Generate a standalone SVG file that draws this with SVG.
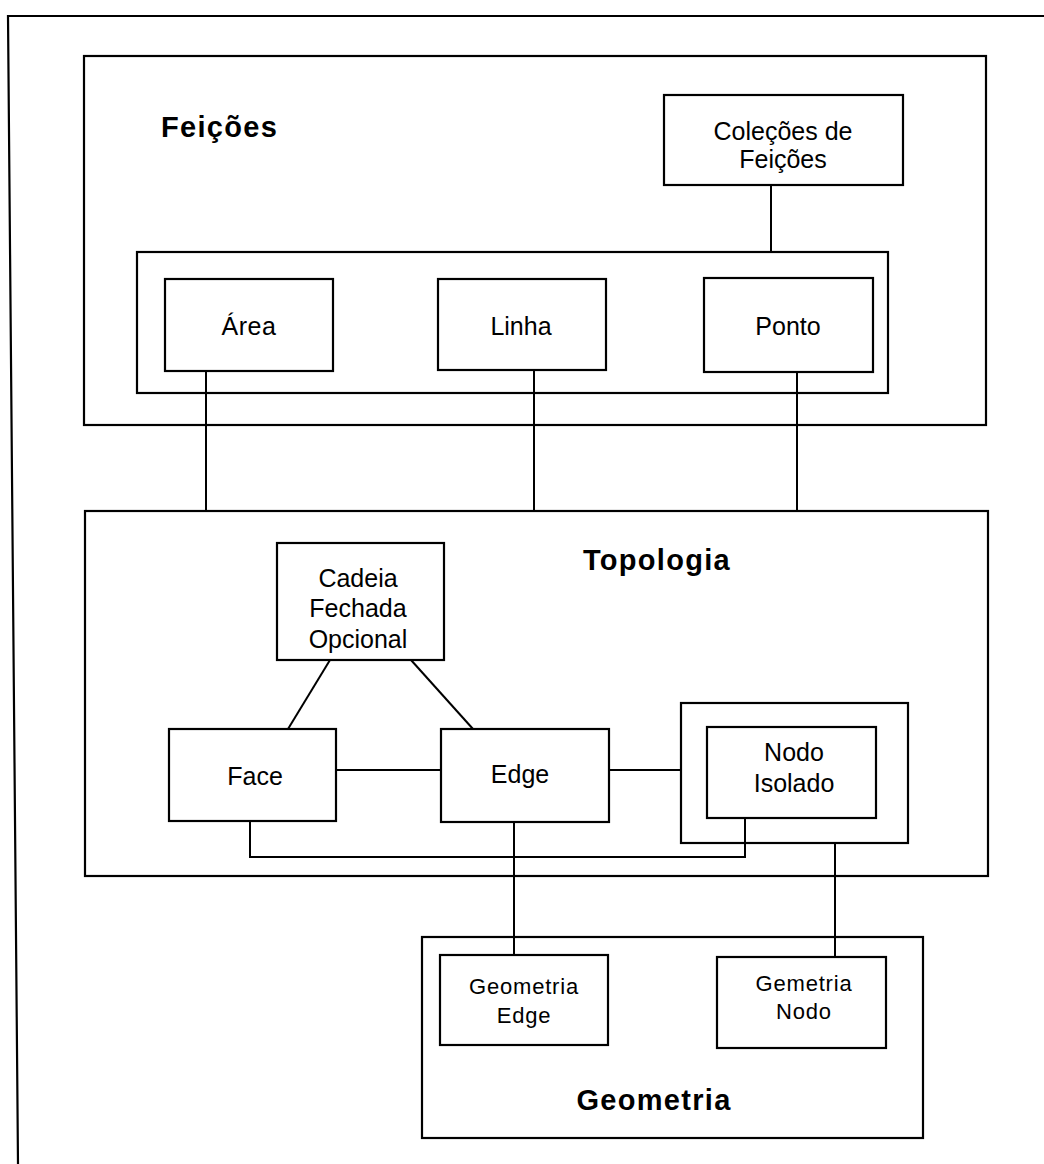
<svg xmlns="http://www.w3.org/2000/svg" width="1044" height="1164" viewBox="0 0 1044 1164">
<style>
.box{fill:#fff;stroke:#000;stroke-width:2.2}
.grp{fill:none;stroke:#000;stroke-width:2.2}
.con{fill:none;stroke:#000;stroke-width:2}
.t{font-family:"Liberation Sans",Arial,sans-serif;font-size:25px;fill:#000;text-anchor:middle}
.s{font-size:22px;letter-spacing:0.8px}
.h{font-family:"Liberation Sans",Arial,sans-serif;font-weight:bold;font-size:29px;fill:#000;letter-spacing:1.3px}
</style>
<rect width="1044" height="1164" fill="#fff"/>
<g id="frame">
<path class="grp" d="M18,1164 L8,16 L1044,16"/>
</g>
<g id="feicoes">
<rect class="grp" x="84" y="56" width="902" height="369"/>
<text class="h" x="161" y="137">Feições</text>
</g>
<g id="topologia">
<rect class="grp" x="85" y="511" width="903" height="365"/>
<text class="h" x="657" y="570" text-anchor="middle">Topologia</text>
</g>
<g id="geometria">
<rect class="grp" x="422" y="937" width="501" height="201"/>
<text class="h" x="654" y="1110" text-anchor="middle">Geometria</text>
</g>
<g id="connectors">
<line class="con" x1="771" y1="185" x2="771" y2="252"/>
<line class="con" x1="206" y1="371" x2="206" y2="511"/>
<line class="con" x1="534" y1="370" x2="534" y2="511"/>
<line class="con" x1="797" y1="372" x2="797" y2="511"/>
<line class="con" x1="330" y1="660" x2="288" y2="729"/>
<line class="con" x1="411" y1="660" x2="473" y2="729"/>
<line class="con" x1="337" y1="770" x2="441" y2="770"/>
<line class="con" x1="609" y1="770" x2="682" y2="770"/>
<path class="con" d="M250,821 L250,857 L745,857 L745,818"/>
<line class="con" x1="514" y1="822" x2="514" y2="955"/>
<line class="con" x1="835" y1="843" x2="835" y2="957"/>
</g>
<g id="feicoes-group">
<rect class="grp" x="137" y="252" width="751" height="141"/>
</g>
<g id="colecoes">
<rect class="box" x="664" y="95" width="239" height="90"/>
<text class="t" x="783" y="140">Coleções de</text>
<text class="t" x="783" y="168">Feições</text>
</g>
<g id="area">
<rect class="box" x="165" y="279" width="168" height="92"/>
<text class="t" x="249" y="335" letter-spacing="0.6">Área</text>
</g>
<g id="linha">
<rect class="box" x="438" y="279" width="168" height="91"/>
<text class="t" x="521" y="335">Linha</text>
</g>
<g id="ponto">
<rect class="box" x="704" y="278" width="169" height="94"/>
<text class="t" x="788" y="335">Ponto</text>
</g>
<g id="cadeia">
<rect class="box" x="277" y="543" width="167" height="117"/>
<text class="t" x="358" y="587">Cadeia</text>
<text class="t" x="358" y="617">Fechada</text>
<text class="t" x="358" y="648">Opcional</text>
</g>
<g id="face">
<rect class="box" x="169" y="729" width="167" height="92"/>
<text class="t" x="255" y="785" font-size="26">Face</text>
</g>
<g id="edge">
<rect class="box" x="441" y="729" width="168" height="93"/>
<text class="t" x="520" y="783">Edge</text>
</g>
<g id="nodo-isolado">
<rect class="grp" x="681" y="703" width="227" height="140"/>
<rect class="box" x="707" y="727" width="169" height="91"/>
<text class="t" x="794" y="761">Nodo</text>
<text class="t" x="794" y="792">Isolado</text>
</g>
<g id="geometria-edge">
<rect class="box" x="440" y="955" width="168" height="90"/>
<text class="t s" x="524" y="994">Geometria</text>
<text class="t s" x="524" y="1023">Edge</text>
</g>
<g id="gemetria-nodo">
<rect class="box" x="717" y="957" width="169" height="91"/>
<text class="t s" x="804" y="991">Gemetria</text>
<text class="t s" x="804" y="1019">Nodo</text>
</g>
</svg>
